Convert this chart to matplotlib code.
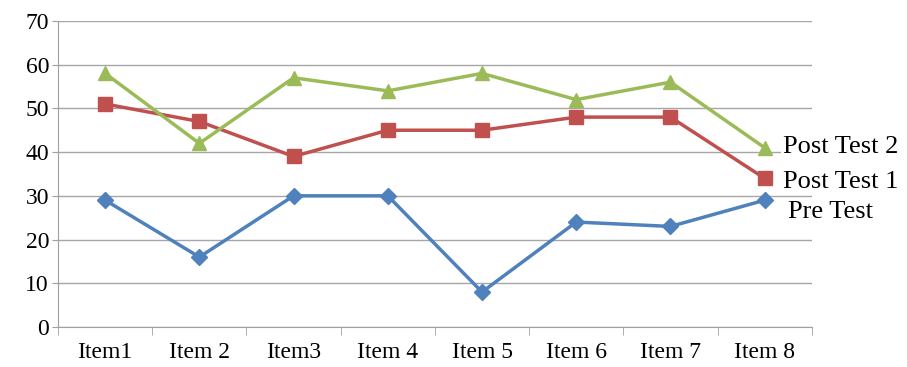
import matplotlib.pyplot as plt
import numpy as np

items = ['Item1', 'Item 2', 'Item3', 'Item 4', 'Item 5', 'Item 6', 'Item 7', 'Item 8']
pre_test = [29, 16, 30, 30, 8, 24, 23, 29]
post_test_1 = [51, 47, 39, 45, 45, 48, 48, 34]
post_test_2 = [58, 42, 57, 54, 58, 52, 56, 41]

plt.rcParams['font.family'] = ['Liberation Serif', 'DejaVu Serif']

fig = plt.figure(figsize=(9.07, 3.67), dpi=100)
ax = fig.add_axes([0.064, 0.109, 0.831, 0.834])

x = np.arange(len(items))
ax.plot(x, pre_test, color='#4F81BD', lw=2.5, marker='D', ms=8, zorder=3)
ax.plot(x, post_test_1, color='#C0504D', lw=2.5, marker='s', ms=9.5, zorder=3)
ax.plot(x, post_test_2, color='#9BBB59', lw=2.5, marker='^', ms=10.5, zorder=3)

ax.set_xlim(-0.5, len(items) - 0.5)
ax.set_ylim(0, 70)
ax.set_yticks(range(0, 71, 10))
ax.set_xticks(x)
ax.set_xticklabels(items)
ax.set_xticks(np.arange(-0.5, len(items)), minor=True)
ax.tick_params(axis='x', which='major', length=0, labelsize=17, pad=11)
ax.tick_params(axis='x', which='minor', length=6, color='#A0A0A0')
ax.tick_params(axis='y', length=4.5, color='#A0A0A0', labelsize=17, pad=2)
ax.grid(axis='y', color='#A6A6A6', lw=1)
ax.set_axisbelow(True)

for side in ['top', 'right']:
    ax.spines[side].set_visible(False)
for side in ['left', 'bottom']:
    ax.spines[side].set_color('#A0A0A0')

# series names placed beside the last point
box = dict(facecolor='white', edgecolor='none', pad=1)
ax.annotate('Post Test 2', (x[-1], post_test_2[-1]), xytext=(13, 0.2), textcoords='offset points',
            fontsize=19, va='center', bbox=box, annotation_clip=False)
ax.annotate('Post Test 1', (x[-1], post_test_1[-1]), xytext=(13, -2.6), textcoords='offset points',
            fontsize=19, va='center', bbox=box, annotation_clip=False)
ax.annotate('Pre Test', (x[-1], pre_test[-1]), xytext=(16.5, -8.5), textcoords='offset points',
            fontsize=19, va='center', bbox=box, annotation_clip=False)

fig.savefig('out.png', dpi=100)
